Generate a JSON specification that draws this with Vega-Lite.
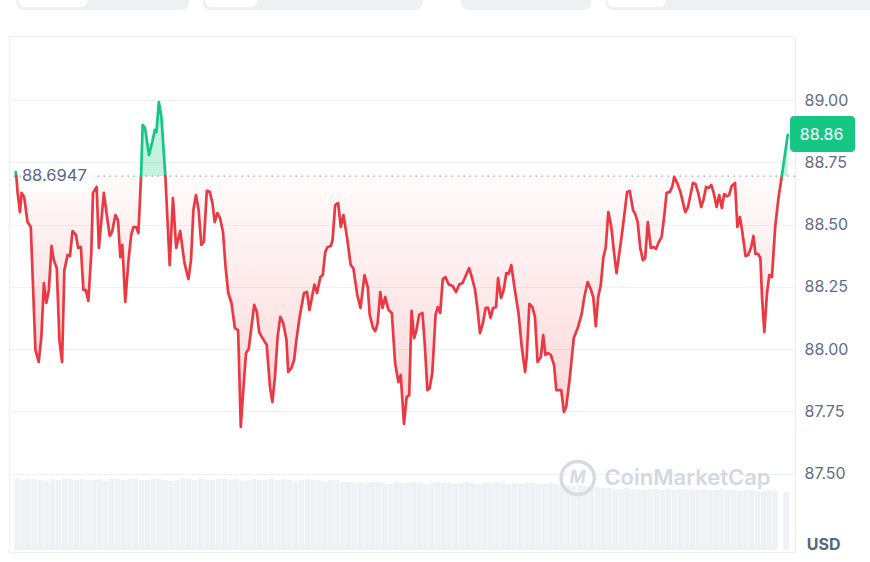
{
  "$schema": "https://vega.github.io/schema/vega-lite/v6.json",
  "width": 786,
  "height": 516,
  "autosize": {"type": "none"},
  "padding": {"left": 9, "top": 36, "right": 75, "bottom": 10},
  "background": "#ffffff",
  "datasets": {
    "price": [
      {"t":10.7,"v":88.711,"side":"up","seg":"g1"},{"t":11.3,"v":88.6947,"side":"up","seg":"g1"},
      {"t":11.3,"v":88.6947,"side":"down","seg":"r1"},{"t":12.7,"v":88.627,"side":"down","seg":"r1"},{"t":15,"v":88.55,"side":"down","seg":"r1"},{"t":16.7,"v":88.627,"side":"down","seg":"r1"},{"t":19.3,"v":88.61,"side":"down","seg":"r1"},{"t":22.7,"v":88.51,"side":"down","seg":"r1"},{"t":26,"v":88.49,"side":"down","seg":"r1"},{"t":30.7,"v":87.996,"side":"down","seg":"r1"},{"t":34,"v":87.948,"side":"down","seg":"r1"},{"t":36.7,"v":88.048,"side":"down","seg":"r1"},{"t":39.3,"v":88.265,"side":"down","seg":"r1"},{"t":41.7,"v":88.185,"side":"down","seg":"r1"},{"t":44.3,"v":88.237,"side":"down","seg":"r1"},{"t":47,"v":88.414,"side":"down","seg":"r1"},{"t":49.3,"v":88.357,"side":"down","seg":"r1"},{"t":52.3,"v":88.325,"side":"down","seg":"r1"},{"t":55,"v":88.036,"side":"down","seg":"r1"},{"t":57.7,"v":87.948,"side":"down","seg":"r1"},{"t":60,"v":88.317,"side":"down","seg":"r1"},{"t":63.3,"v":88.378,"side":"down","seg":"r1"},{"t":65.7,"v":88.373,"side":"down","seg":"r1"},{"t":68.3,"v":88.474,"side":"down","seg":"r1"},{"t":71.7,"v":88.458,"side":"down","seg":"r1"},{"t":74,"v":88.406,"side":"down","seg":"r1"},{"t":76.7,"v":88.41,"side":"down","seg":"r1"},{"t":79.3,"v":88.237,"side":"down","seg":"r1"},{"t":81.7,"v":88.237,"side":"down","seg":"r1"},{"t":84.3,"v":88.193,"side":"down","seg":"r1"},{"t":87.3,"v":88.386,"side":"down","seg":"r1"},{"t":89,"v":88.627,"side":"down","seg":"r1"},{"t":92.7,"v":88.651,"side":"down","seg":"r1"},{"t":95,"v":88.406,"side":"down","seg":"r1"},{"t":100,"v":88.627,"side":"down","seg":"r1"},{"t":102.7,"v":88.546,"side":"down","seg":"r1"},{"t":106,"v":88.454,"side":"down","seg":"r1"},{"t":108.3,"v":88.47,"side":"down","seg":"r1"},{"t":111.7,"v":88.538,"side":"down","seg":"r1"},{"t":114.3,"v":88.518,"side":"down","seg":"r1"},{"t":116.7,"v":88.369,"side":"down","seg":"r1"},{"t":118.7,"v":88.418,"side":"down","seg":"r1"},{"t":121.7,"v":88.189,"side":"down","seg":"r1"},{"t":125,"v":88.357,"side":"down","seg":"r1"},{"t":127.7,"v":88.458,"side":"down","seg":"r1"},{"t":130,"v":88.49,"side":"down","seg":"r1"},{"t":132.7,"v":88.49,"side":"down","seg":"r1"},{"t":135,"v":88.466,"side":"down","seg":"r1"},{"t":137.7,"v":88.6947,"side":"down","seg":"r1"},
      {"t":137.7,"v":88.6947,"side":"up","seg":"g2"},{"t":139.3,"v":88.9,"side":"up","seg":"g2"},{"t":141.7,"v":88.888,"side":"up","seg":"g2"},{"t":145.7,"v":88.779,"side":"up","seg":"g2"},{"t":149,"v":88.831,"side":"up","seg":"g2"},{"t":151.7,"v":88.88,"side":"up","seg":"g2"},{"t":153.3,"v":88.871,"side":"up","seg":"g2"},{"t":155.7,"v":88.992,"side":"up","seg":"g2"},{"t":158.3,"v":88.932,"side":"up","seg":"g2"},{"t":162.3,"v":88.6947,"side":"up","seg":"g2"},
      {"t":162.3,"v":88.6947,"side":"down","seg":"r2"},{"t":166.7,"v":88.337,"side":"down","seg":"r2"},{"t":170,"v":88.606,"side":"down","seg":"r2"},{"t":173.3,"v":88.406,"side":"down","seg":"r2"},{"t":177.3,"v":88.474,"side":"down","seg":"r2"},{"t":181.7,"v":88.345,"side":"down","seg":"r2"},{"t":185.7,"v":88.281,"side":"down","seg":"r2"},{"t":188.3,"v":88.357,"side":"down","seg":"r2"},{"t":190.7,"v":88.558,"side":"down","seg":"r2"},{"t":193.3,"v":88.618,"side":"down","seg":"r2"},{"t":196,"v":88.558,"side":"down","seg":"r2"},{"t":198.7,"v":88.418,"side":"down","seg":"r2"},{"t":201.3,"v":88.43,"side":"down","seg":"r2"},{"t":204.3,"v":88.635,"side":"down","seg":"r2"},{"t":207.3,"v":88.631,"side":"down","seg":"r2"},{"t":210,"v":88.586,"side":"down","seg":"r2"},{"t":212.3,"v":88.51,"side":"down","seg":"r2"},{"t":215,"v":88.546,"side":"down","seg":"r2"},{"t":217.7,"v":88.526,"side":"down","seg":"r2"},{"t":220.7,"v":88.47,"side":"down","seg":"r2"},{"t":223.3,"v":88.329,"side":"down","seg":"r2"},{"t":226,"v":88.225,"side":"down","seg":"r2"},{"t":229.3,"v":88.185,"side":"down","seg":"r2"},{"t":232.7,"v":88.084,"side":"down","seg":"r2"},{"t":236,"v":88.076,"side":"down","seg":"r2"},{"t":238.7,"v":87.687,"side":"down","seg":"r2"},{"t":241,"v":87.823,"side":"down","seg":"r2"},{"t":244,"v":87.984,"side":"down","seg":"r2"},{"t":246.7,"v":88.0,"side":"down","seg":"r2"},{"t":252.3,"v":88.177,"side":"down","seg":"r2"},{"t":255,"v":88.149,"side":"down","seg":"r2"},{"t":257.3,"v":88.068,"side":"down","seg":"r2"},{"t":260.7,"v":88.044,"side":"down","seg":"r2"},{"t":265,"v":88.016,"side":"down","seg":"r2"},{"t":268.3,"v":87.847,"side":"down","seg":"r2"},{"t":270.7,"v":87.787,"side":"down","seg":"r2"},{"t":273.3,"v":87.888,"side":"down","seg":"r2"},{"t":276,"v":88.048,"side":"down","seg":"r2"},{"t":278.7,"v":88.129,"side":"down","seg":"r2"},{"t":281.7,"v":88.104,"side":"down","seg":"r2"},{"t":285,"v":88.036,"side":"down","seg":"r2"},{"t":286.7,"v":87.908,"side":"down","seg":"r2"},{"t":290,"v":87.924,"side":"down","seg":"r2"},{"t":292.7,"v":87.956,"side":"down","seg":"r2"},{"t":295,"v":88.036,"side":"down","seg":"r2"},{"t":298.3,"v":88.129,"side":"down","seg":"r2"},{"t":302.7,"v":88.225,"side":"down","seg":"r2"},{"t":305.7,"v":88.229,"side":"down","seg":"r2"},{"t":308.3,"v":88.157,"side":"down","seg":"r2"},{"t":313.3,"v":88.259,"side":"down","seg":"r2"},{"t":316,"v":88.225,"side":"down","seg":"r2"},{"t":319.3,"v":88.289,"side":"down","seg":"r2"},{"t":321.7,"v":88.297,"side":"down","seg":"r2"},{"t":324.3,"v":88.39,"side":"down","seg":"r2"},{"t":326.7,"v":88.41,"side":"down","seg":"r2"},{"t":330,"v":88.414,"side":"down","seg":"r2"},{"t":331.7,"v":88.438,"side":"down","seg":"r2"},{"t":334.3,"v":88.578,"side":"down","seg":"r2"},{"t":337.3,"v":88.586,"side":"down","seg":"r2"},{"t":340,"v":88.49,"side":"down","seg":"r2"},{"t":342.7,"v":88.538,"side":"down","seg":"r2"},{"t":346.7,"v":88.438,"side":"down","seg":"r2"},{"t":350,"v":88.337,"side":"down","seg":"r2"},{"t":352.7,"v":88.325,"side":"down","seg":"r2"},{"t":356.7,"v":88.217,"side":"down","seg":"r2"},{"t":360,"v":88.165,"side":"down","seg":"r2"},{"t":364,"v":88.297,"side":"down","seg":"r2"},{"t":367.3,"v":88.249,"side":"down","seg":"r2"},{"t":369.3,"v":88.137,"side":"down","seg":"r2"},{"t":372.7,"v":88.084,"side":"down","seg":"r2"},{"t":375,"v":88.072,"side":"down","seg":"r2"},{"t":377.3,"v":88.104,"side":"down","seg":"r2"},{"t":380,"v":88.229,"side":"down","seg":"r2"},{"t":382.3,"v":88.165,"side":"down","seg":"r2"},{"t":385,"v":88.209,"side":"down","seg":"r2"},{"t":388.3,"v":88.157,"side":"down","seg":"r2"},{"t":391.7,"v":88.145,"side":"down","seg":"r2"},{"t":395,"v":87.944,"side":"down","seg":"r2"},{"t":398.3,"v":87.867,"side":"down","seg":"r2"},{"t":400.7,"v":87.896,"side":"down","seg":"r2"},{"t":404,"v":87.699,"side":"down","seg":"r2"},{"t":406.7,"v":87.807,"side":"down","seg":"r2"},{"t":409.3,"v":87.815,"side":"down","seg":"r2"},{"t":411.7,"v":88.153,"side":"down","seg":"r2"},{"t":414.3,"v":88.044,"side":"down","seg":"r2"},{"t":416.7,"v":88.076,"side":"down","seg":"r2"},{"t":419.3,"v":88.137,"side":"down","seg":"r2"},{"t":422.7,"v":88.145,"side":"down","seg":"r2"},{"t":425,"v":88.024,"side":"down","seg":"r2"},{"t":427.7,"v":87.835,"side":"down","seg":"r2"},{"t":430,"v":87.843,"side":"down","seg":"r2"},{"t":432.7,"v":87.904,"side":"down","seg":"r2"},{"t":436,"v":88.137,"side":"down","seg":"r2"},{"t":438.3,"v":88.169,"side":"down","seg":"r2"},{"t":440.7,"v":88.145,"side":"down","seg":"r2"},{"t":443.3,"v":88.281,"side":"down","seg":"r2"},{"t":446,"v":88.289,"side":"down","seg":"r2"},{"t":449.3,"v":88.259,"side":"down","seg":"r2"},{"t":453.3,"v":88.253,"side":"down","seg":"r2"},{"t":456.7,"v":88.229,"side":"down","seg":"r2"},{"t":460,"v":88.259,"side":"down","seg":"r2"},{"t":463.3,"v":88.265,"side":"down","seg":"r2"},{"t":466,"v":88.289,"side":"down","seg":"r2"},{"t":470,"v":88.325,"side":"down","seg":"r2"},{"t":472.7,"v":88.289,"side":"down","seg":"r2"},{"t":476,"v":88.237,"side":"down","seg":"r2"},{"t":478.3,"v":88.165,"side":"down","seg":"r2"},{"t":481,"v":88.064,"side":"down","seg":"r2"},{"t":484,"v":88.104,"side":"down","seg":"r2"},{"t":486.7,"v":88.165,"side":"down","seg":"r2"},{"t":489.3,"v":88.165,"side":"down","seg":"r2"},{"t":491.7,"v":88.125,"side":"down","seg":"r2"},{"t":494.3,"v":88.165,"side":"down","seg":"r2"},{"t":497.3,"v":88.169,"side":"down","seg":"r2"},{"t":499.3,"v":88.285,"side":"down","seg":"r2"},{"t":502.3,"v":88.205,"side":"down","seg":"r2"},{"t":505,"v":88.237,"side":"down","seg":"r2"},{"t":507.7,"v":88.305,"side":"down","seg":"r2"},{"t":510,"v":88.301,"side":"down","seg":"r2"},{"t":512.7,"v":88.337,"side":"down","seg":"r2"},{"t":516,"v":88.245,"side":"down","seg":"r2"},{"t":520,"v":88.145,"side":"down","seg":"r2"},{"t":523.3,"v":88.008,"side":"down","seg":"r2"},{"t":526.7,"v":87.908,"side":"down","seg":"r2"},{"t":528.3,"v":87.968,"side":"down","seg":"r2"},{"t":531,"v":88.181,"side":"down","seg":"r2"},{"t":534,"v":88.169,"side":"down","seg":"r2"},{"t":536.7,"v":88.129,"side":"down","seg":"r2"},{"t":539.3,"v":87.948,"side":"down","seg":"r2"},{"t":542.7,"v":87.968,"side":"down","seg":"r2"},{"t":545,"v":88.056,"side":"down","seg":"r2"},{"t":547.3,"v":87.976,"side":"down","seg":"r2"},{"t":550,"v":87.984,"side":"down","seg":"r2"},{"t":552.7,"v":87.976,"side":"down","seg":"r2"},{"t":556,"v":87.936,"side":"down","seg":"r2"},{"t":558.3,"v":87.835,"side":"down","seg":"r2"},{"t":563.3,"v":87.835,"side":"down","seg":"r2"},{"t":566,"v":87.747,"side":"down","seg":"r2"},{"t":568.3,"v":87.767,"side":"down","seg":"r2"},{"t":571.7,"v":87.876,"side":"down","seg":"r2"},{"t":576,"v":88.044,"side":"down","seg":"r2"},{"t":580,"v":88.084,"side":"down","seg":"r2"},{"t":584,"v":88.141,"side":"down","seg":"r2"},{"t":586.7,"v":88.209,"side":"down","seg":"r2"},{"t":590,"v":88.269,"side":"down","seg":"r2"},{"t":592.7,"v":88.245,"side":"down","seg":"r2"},{"t":595.7,"v":88.209,"side":"down","seg":"r2"},{"t":598.3,"v":88.092,"side":"down","seg":"r2"},{"t":600.7,"v":88.209,"side":"down","seg":"r2"},{"t":603.3,"v":88.257,"side":"down","seg":"r2"},{"t":606,"v":88.369,"side":"down","seg":"r2"},{"t":608.3,"v":88.406,"side":"down","seg":"r2"},{"t":611,"v":88.55,"side":"down","seg":"r2"},{"t":614,"v":88.49,"side":"down","seg":"r2"},{"t":616.7,"v":88.39,"side":"down","seg":"r2"},{"t":619.3,"v":88.305,"side":"down","seg":"r2"},{"t":622.3,"v":88.39,"side":"down","seg":"r2"},{"t":625.7,"v":88.49,"side":"down","seg":"r2"},{"t":630,"v":88.631,"side":"down","seg":"r2"},{"t":632.7,"v":88.635,"side":"down","seg":"r2"},{"t":636,"v":88.558,"side":"down","seg":"r2"},{"t":638.3,"v":88.542,"side":"down","seg":"r2"},{"t":640.7,"v":88.51,"side":"down","seg":"r2"},{"t":643.3,"v":88.406,"side":"down","seg":"r2"},{"t":646,"v":88.357,"side":"down","seg":"r2"},{"t":648.3,"v":88.365,"side":"down","seg":"r2"},{"t":651,"v":88.51,"side":"down","seg":"r2"},{"t":654,"v":88.406,"side":"down","seg":"r2"},{"t":656.7,"v":88.41,"side":"down","seg":"r2"},{"t":659.3,"v":88.402,"side":"down","seg":"r2"},{"t":661.7,"v":88.426,"side":"down","seg":"r2"},{"t":665,"v":88.45,"side":"down","seg":"r2"},{"t":667.7,"v":88.538,"side":"down","seg":"r2"},{"t":670,"v":88.627,"side":"down","seg":"r2"},{"t":673.3,"v":88.631,"side":"down","seg":"r2"},{"t":675.7,"v":88.651,"side":"down","seg":"r2"},{"t":677.7,"v":88.691,"side":"down","seg":"r2"},{"t":680.7,"v":88.667,"side":"down","seg":"r2"},{"t":684,"v":88.631,"side":"down","seg":"r2"},{"t":686.7,"v":88.586,"side":"down","seg":"r2"},{"t":689,"v":88.55,"side":"down","seg":"r2"},{"t":691.7,"v":88.57,"side":"down","seg":"r2"},{"t":696.7,"v":88.667,"side":"down","seg":"r2"},{"t":699.3,"v":88.663,"side":"down","seg":"r2"},{"t":702,"v":88.627,"side":"down","seg":"r2"},{"t":705,"v":88.57,"side":"down","seg":"r2"},{"t":707.3,"v":88.598,"side":"down","seg":"r2"},{"t":710,"v":88.651,"side":"down","seg":"r2"},{"t":712.7,"v":88.647,"side":"down","seg":"r2"},{"t":715.3,"v":88.659,"side":"down","seg":"r2"},{"t":717.7,"v":88.627,"side":"down","seg":"r2"},{"t":720.7,"v":88.57,"side":"down","seg":"r2"},{"t":723.3,"v":88.618,"side":"down","seg":"r2"},{"t":726,"v":88.566,"side":"down","seg":"r2"},{"t":728.3,"v":88.622,"side":"down","seg":"r2"},{"t":731,"v":88.614,"side":"down","seg":"r2"},{"t":733.3,"v":88.618,"side":"down","seg":"r2"},{"t":736,"v":88.655,"side":"down","seg":"r2"},{"t":739.3,"v":88.667,"side":"down","seg":"r2"},{"t":741.7,"v":88.49,"side":"down","seg":"r2"},{"t":744.3,"v":88.53,"side":"down","seg":"r2"},{"t":746.7,"v":88.47,"side":"down","seg":"r2"},{"t":750,"v":88.373,"side":"down","seg":"r2"},{"t":752.7,"v":88.378,"side":"down","seg":"r2"},{"t":755.7,"v":88.41,"side":"down","seg":"r2"},{"t":758,"v":88.454,"side":"down","seg":"r2"},{"t":760,"v":88.382,"side":"down","seg":"r2"},{"t":762.7,"v":88.382,"side":"down","seg":"r2"},{"t":765,"v":88.365,"side":"down","seg":"r2"},{"t":766.7,"v":88.205,"side":"down","seg":"r2"},{"t":769,"v":88.068,"side":"down","seg":"r2"},{"t":771.7,"v":88.225,"side":"down","seg":"r2"},{"t":774,"v":88.297,"side":"down","seg":"r2"},{"t":776.7,"v":88.289,"side":"down","seg":"r2"},{"t":780,"v":88.49,"side":"down","seg":"r2"},{"t":783.3,"v":88.606,"side":"down","seg":"r2"},{"t":786.7,"v":88.6947,"side":"down","seg":"r2"},
      {"t":786.7,"v":88.6947,"side":"up","seg":"g3"},{"t":792.7,"v":88.86,"side":"up","seg":"g3"}
    ],
    "volume": [
      {"t":12,"vol":71},{"t":18,"vol":70},{"t":24,"vol":71},{"t":30,"vol":71},{"t":36,"vol":70},{"t":42,"vol":69},{"t":48,"vol":71},{"t":54,"vol":70},{"t":60,"vol":71},{"t":66,"vol":71},
      {"t":72,"vol":70},{"t":78,"vol":71},{"t":84,"vol":70},{"t":90,"vol":70},{"t":96,"vol":71},{"t":102,"vol":69},{"t":108,"vol":71},{"t":114,"vol":71},{"t":120,"vol":70},{"t":126,"vol":71},
      {"t":132,"vol":71},{"t":138,"vol":70},{"t":144,"vol":70},{"t":150,"vol":71},{"t":156,"vol":71},{"t":162,"vol":70},{"t":168,"vol":69},{"t":174,"vol":70},{"t":180,"vol":71},{"t":186,"vol":71},
      {"t":192,"vol":70},{"t":198,"vol":71},{"t":204,"vol":70},{"t":210,"vol":70},{"t":216,"vol":71},{"t":222,"vol":71},{"t":228,"vol":70},{"t":234,"vol":71},{"t":240,"vol":69},{"t":246,"vol":70},
      {"t":252,"vol":71},{"t":258,"vol":70},{"t":264,"vol":70},{"t":270,"vol":71},{"t":276,"vol":70},{"t":282,"vol":71},{"t":288,"vol":70},{"t":294,"vol":69},{"t":300,"vol":70},{"t":306,"vol":71},
      {"t":312,"vol":70},{"t":318,"vol":70},{"t":324,"vol":69},{"t":330,"vol":70},{"t":336,"vol":70},
      {"t":342,"vol":68},{"t":348,"vol":68},{"t":354,"vol":67},{"t":360,"vol":68},{"t":366,"vol":67},{"t":372,"vol":68},{"t":378,"vol":68},{"t":384,"vol":67},{"t":390,"vol":66},{"t":396,"vol":68},
      {"t":402,"vol":67},{"t":408,"vol":67},{"t":414,"vol":68},{"t":420,"vol":67},{"t":426,"vol":66},{"t":432,"vol":67},{"t":438,"vol":68},{"t":444,"vol":67},{"t":450,"vol":67},{"t":456,"vol":66},
      {"t":462,"vol":67},{"t":468,"vol":68},{"t":474,"vol":67},{"t":480,"vol":66},{"t":486,"vol":67},{"t":492,"vol":67},{"t":498,"vol":68},{"t":504,"vol":67},{"t":510,"vol":66},{"t":516,"vol":67},
      {"t":522,"vol":66},{"t":528,"vol":67},{"t":534,"vol":67},{"t":540,"vol":66},{"t":546,"vol":66},{"t":552,"vol":67},{"t":558,"vol":66},
      {"t":564,"vol":65},{"t":570,"vol":65},{"t":576,"vol":64},{"t":582,"vol":65},{"t":588,"vol":64},{"t":594,"vol":64},{"t":600,"vol":63},{"t":606,"vol":62},{"t":612,"vol":62},{"t":618,"vol":61},
      {"t":624,"vol":61},{"t":630,"vol":62},{"t":636,"vol":61},{"t":642,"vol":61},{"t":648,"vol":60},{"t":654,"vol":61},{"t":660,"vol":61},{"t":666,"vol":60},{"t":672,"vol":61},{"t":678,"vol":60},
      {"t":684,"vol":61},{"t":690,"vol":61},{"t":696,"vol":60},{"t":702,"vol":60},{"t":708,"vol":61},{"t":714,"vol":60},{"t":720,"vol":60},{"t":726,"vol":61},{"t":732,"vol":60},{"t":738,"vol":60},
      {"t":744,"vol":59},{"t":750,"vol":60},{"t":756,"vol":60},{"t":762,"vol":59},{"t":768,"vol":59},{"t":774,"vol":60},{"t":780,"vol":59},{"t":791,"vol":58}
    ]
  },
  "resolve": {"scale": {"y": "independent"}, "axis": {"y": "independent"}},
  "layer": [
    {
      "data": {"name": "volume"},
      "mark": {"type": "bar", "width": 5.5, "color": "#eff1f5"},
      "encoding": {
        "x": {"field": "t", "type": "quantitative", "scale": {"domain": [9, 795], "nice": false, "zero": false}, "axis": null},
        "y": {"field": "vol", "type": "quantitative", "scale": {"domain": [-2, 514], "nice": false},
              "axis": {"orient": "left", "labels": false, "ticks": false, "domain": false, "grid": false, "title": null}}
      }
    },
    {
      "data": {"values": [{}]},
      "layer": [
        {
          "data": {"name": "price"},
          "transform": [{"filter": {"field": "side", "equal": "down"}}],
          "mark": {
            "type": "area",
            "color": {
              "gradient": "linear", "x1": 0, "y1": 0, "x2": 0, "y2": 1,
              "stops": [
                {"offset": 0, "color": "rgba(234,57,67,0.02)"},
                {"offset": 1, "color": "rgba(234,57,67,0.21)"}
              ]
            }
          },
          "encoding": {
            "x": {"field": "t", "type": "quantitative", "scale": {"domain": [9, 795], "nice": false, "zero": false}, "axis": null},
            "y": {"field": "v", "type": "quantitative", "scale": {"domain": [87.185, 89.257], "nice": false, "zero": false},
                  "axis": {"orient": "right", "values": [87.5, 87.75, 88, 88.25, 88.5, 88.75, 89], "format": ".2f", "title": null, "grid": true, "domain": true}},
            "y2": {"datum": 88.6947},
            "detail": {"field": "seg"}
          }
        },
        {
          "data": {"name": "price"},
          "transform": [{"filter": {"field": "side", "equal": "up"}}],
          "mark": {"type": "area", "color": "#16c784", "opacity": 0.25},
          "encoding": {
            "x": {"field": "t", "type": "quantitative", "scale": {"domain": [9, 795], "nice": false, "zero": false}, "axis": null},
            "y": {"field": "v", "type": "quantitative"},
            "y2": {"datum": 88.6947},
            "detail": {"field": "seg"}
          }
        },
        {
          "mark": {"type": "rule", "color": "#9aa2b5", "strokeWidth": 1.3, "strokeDash": [1.5, 4.5]},
          "encoding": {"y": {"datum": 88.6947, "type": "quantitative"}}
        },
        {
          "mark": {"type": "rect", "color": "#ffffff"},
          "encoding": {
            "x": {"datum": 16.5, "type": "quantitative", "axis": null}, "x2": {"datum": 88.5},
            "y": {"datum": 88.747, "type": "quantitative"}, "y2": {"datum": 88.631}
          }
        },
        {
          "mark": {"type": "text", "text": "88.6947", "align": "left", "baseline": "middle", "font": "Inter", "fontSize": 16.5, "color": "#58667e"},
          "encoding": {"x": {"datum": 17, "type": "quantitative", "axis": null}, "y": {"datum": 88.6947, "type": "quantitative"}}
        },
        {
          "data": {"name": "price"},
          "mark": {"type": "line", "strokeWidth": 2.7, "strokeJoin": "round", "strokeCap": "round"},
          "encoding": {
            "x": {"field": "t", "type": "quantitative", "axis": null},
            "y": {"field": "v", "type": "quantitative"},
            "color": {"field": "side", "type": "nominal", "scale": {"domain": ["down", "up"], "range": ["#ea3943", "#16c784"]}, "legend": null},
            "detail": {"field": "seg"}
          }
        },
        {
          "mark": {"type": "point", "shape": "circle", "filled": false, "size": 1100, "strokeWidth": 3.5, "color": "#d5dae3", "opacity": 1},
          "encoding": {"x": {"datum": 580, "type": "quantitative", "axis": null}, "y": {"datum": 87.482, "type": "quantitative"}}
        },
        {
          "mark": {"type": "text", "text": "M", "align": "center", "baseline": "middle", "font": "Inter", "fontSize": 17, "fontWeight": 700, "fontStyle": "italic", "color": "#d5dae3"},
          "encoding": {"x": {"datum": 580, "type": "quantitative", "axis": null}, "y": {"datum": 87.482, "type": "quantitative"}}
        },
        {
          "mark": {"type": "text", "text": "CoinMarketCap", "align": "left", "baseline": "middle", "font": "Inter", "fontSize": 22, "fontWeight": 600, "color": "#d3d8e1"},
          "encoding": {"x": {"datum": 607, "type": "quantitative", "axis": null}, "y": {"datum": 87.482, "type": "quantitative"}}
        },
        {
          "mark": {"type": "rect", "color": "#16c784", "cornerRadius": 4},
          "encoding": {
            "x": {"datum": 795, "type": "quantitative", "axis": null}, "x2": {"datum": 861},
            "y": {"datum": 88.936, "type": "quantitative"}, "y2": {"datum": 88.791}
          }
        },
        {
          "mark": {"type": "text", "text": "88.86", "align": "left", "baseline": "middle", "font": "Inter", "fontSize": 16, "color": "#ffffff"},
          "encoding": {"x": {"datum": 805, "type": "quantitative", "axis": null}, "y": {"datum": 88.86, "type": "quantitative"}}
        },
        {
          "mark": {"type": "text", "text": "USD", "align": "left", "baseline": "middle", "font": "Inter", "fontSize": 16, "fontWeight": 700, "color": "#58667e"},
          "encoding": {"x": {"datum": 812, "type": "quantitative", "axis": null}, "y": {"datum": 87.213, "type": "quantitative"}}
        },
        {
          "mark": {"type": "rect", "color": "#eef0f3", "cornerRadius": 8},
          "encoding": {"x": {"datum": 11, "type": "quantitative", "axis": null}, "x2": {"datum": 186}, "y": {"datum": 89.5, "type": "quantitative"}, "y2": {"datum": 89.3614}}
        },
        {
          "mark": {"type": "rect", "color": "#eef0f3", "cornerRadius": 8},
          "encoding": {"x": {"datum": 200, "type": "quantitative", "axis": null}, "x2": {"datum": 423}, "y": {"datum": 89.5, "type": "quantitative"}, "y2": {"datum": 89.3614}}
        },
        {
          "mark": {"type": "rect", "color": "#eef0f3", "cornerRadius": 8},
          "encoding": {"x": {"datum": 462, "type": "quantitative", "axis": null}, "x2": {"datum": 594}, "y": {"datum": 89.5, "type": "quantitative"}, "y2": {"datum": 89.3614}}
        },
        {
          "mark": {"type": "rect", "color": "#eef0f3", "cornerRadius": 8},
          "encoding": {"x": {"datum": 608, "type": "quantitative", "axis": null}, "x2": {"datum": 900}, "y": {"datum": 89.5, "type": "quantitative"}, "y2": {"datum": 89.3614}}
        },
        {
          "mark": {"type": "rect", "color": "#ffffff", "cornerRadius": 6},
          "encoding": {"x": {"datum": 14, "type": "quantitative", "axis": null}, "x2": {"datum": 83}, "y": {"datum": 89.5, "type": "quantitative"}, "y2": {"datum": 89.3735}}
        },
        {
          "mark": {"type": "rect", "color": "#ffffff", "cornerRadius": 6},
          "encoding": {"x": {"datum": 203, "type": "quantitative", "axis": null}, "x2": {"datum": 255}, "y": {"datum": 89.5, "type": "quantitative"}, "y2": {"datum": 89.3735}}
        },
        {
          "mark": {"type": "rect", "color": "#ffffff", "cornerRadius": 6},
          "encoding": {"x": {"datum": 610, "type": "quantitative", "axis": null}, "x2": {"datum": 669}, "y": {"datum": 89.5, "type": "quantitative"}, "y2": {"datum": 89.3735}}
        }
      ]
    }
  ],
  "config": {
    "view": {"stroke": "#eceef1", "strokeWidth": 1},
    "axis": {
      "labelFont": "Inter",
      "labelFontSize": 16,
      "labelColor": "#616e85",
      "gridColor": "#eff2f5",
      "domainColor": "#e9ebef",
      "ticks": false,
      "labelPadding": 9
    },
    "text": {"font": "Inter"}
  }
}
